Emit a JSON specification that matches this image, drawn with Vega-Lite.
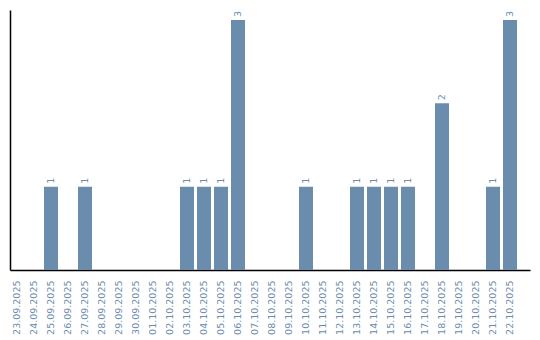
{
  "$schema": "https://vega.github.io/schema/vega-lite/v6.json",
  "autosize": "none",
  "width": 520,
  "height": 260,
  "padding": {"left": 10, "top": 10, "right": 10, "bottom": 70},
  "background": "white",
  "config": {"view": {"stroke": null}},
  "data": {"values": [
    {"date": "23.09.2025", "count": 0},
    {"date": "24.09.2025", "count": 0},
    {"date": "25.09.2025", "count": 1},
    {"date": "26.09.2025", "count": 0},
    {"date": "27.09.2025", "count": 1},
    {"date": "28.09.2025", "count": 0},
    {"date": "29.09.2025", "count": 0},
    {"date": "30.09.2025", "count": 0},
    {"date": "01.10.2025", "count": 0},
    {"date": "02.10.2025", "count": 0},
    {"date": "03.10.2025", "count": 1},
    {"date": "04.10.2025", "count": 1},
    {"date": "05.10.2025", "count": 1},
    {"date": "06.10.2025", "count": 3},
    {"date": "07.10.2025", "count": 0},
    {"date": "08.10.2025", "count": 0},
    {"date": "09.10.2025", "count": 0},
    {"date": "10.10.2025", "count": 1},
    {"date": "11.10.2025", "count": 0},
    {"date": "12.10.2025", "count": 0},
    {"date": "13.10.2025", "count": 1},
    {"date": "14.10.2025", "count": 1},
    {"date": "15.10.2025", "count": 1},
    {"date": "16.10.2025", "count": 1},
    {"date": "17.10.2025", "count": 0},
    {"date": "18.10.2025", "count": 2},
    {"date": "19.10.2025", "count": 0},
    {"date": "20.10.2025", "count": 0},
    {"date": "21.10.2025", "count": 1},
    {"date": "22.10.2025", "count": 3}
  ]},
  "encoding": {
    "x": {
      "field": "date", "type": "ordinal", "sort": null,
      "scale": {"paddingInner": 0.176, "paddingOuter": 0.382, "align": 0},
      "axis": {
        "title": null, "labelAngle": -90, "labelAlign": "right", "labelBaseline": "middle",
        "labelFont": "DejaVu Sans", "labelFontSize": 9.5, "labelColor": "#6b8cad",
        "ticks": false, "labelPadding": 10, "domainColor": "black", "domainWidth": 1.5, "grid": false
      }
    },
    "y": {
      "field": "count", "type": "quantitative",
      "scale": {"domain": [0, 3.12], "nice": false},
      "axis": {"title": null, "labels": false, "ticks": false, "grid": false, "domainColor": "black", "domainWidth": 1.5}
    }
  },
  "layer": [
    {"mark": {"type": "bar", "color": "#6a8cad"}},
    {
      "transform": [{"filter": "datum.count > 0"}],
      "mark": {"type": "text", "angle": -90, "align": "left", "baseline": "middle", "dx": 3, "font": "DejaVu Sans", "fontSize": 9.5, "color": "#6b8cad"},
      "encoding": {"text": {"field": "count", "type": "quantitative"}}
    }
  ]
}
